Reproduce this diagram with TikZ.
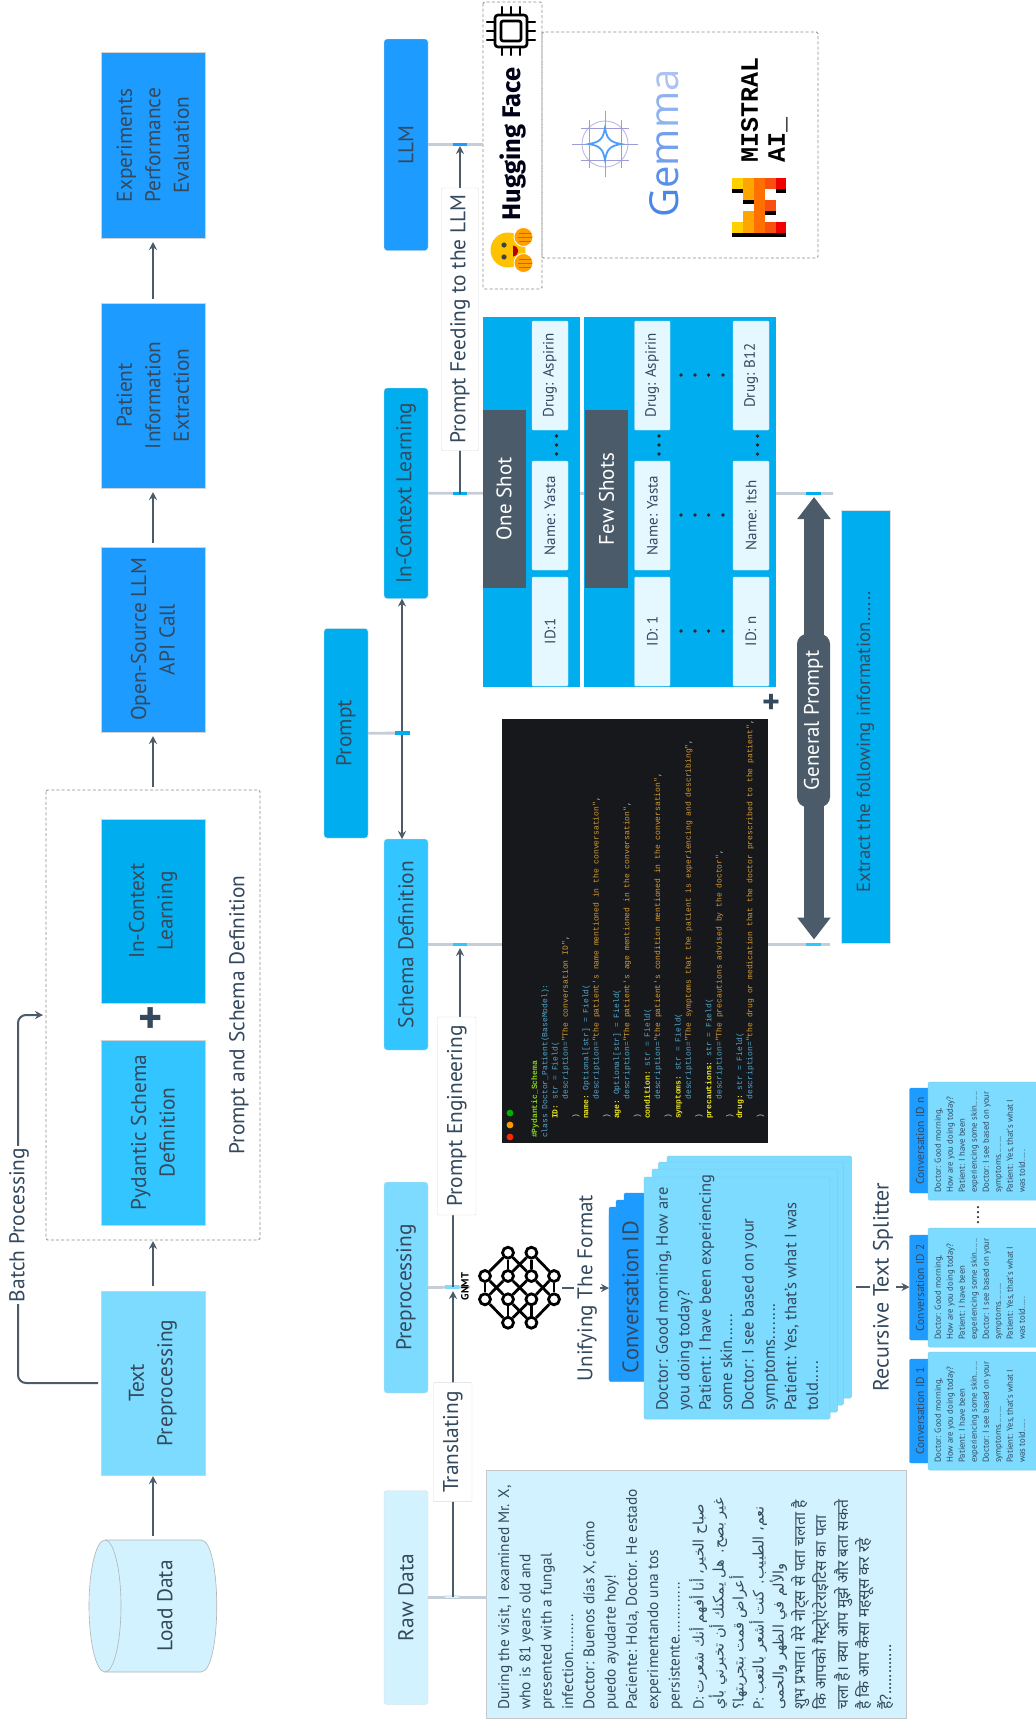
\documentclass[tikz,border=0pt]{standalone}
\usepackage{fontspec}
\usetikzlibrary{arrows.meta}
\setmainfont{PT Sans}
\setmonofont{Liberation Mono}
\newfontfamily\arabicfont[Script=Arabic]{DejaVu Sans}
\newfontfamily\hindifont[Script=Devanagari]{Noto Sans}
\newfontfamily\hffont{Fira Sans}
\newfontfamily\gemfont{Open Sans}
\TeXXeTstate=1
\definecolor{ink}{HTML}{34495E}
\definecolor{slate}{HTML}{4B5B69}
\definecolor{bDark}{HTML}{1E9BFF}
\definecolor{bCyan}{HTML}{00AEEF}
\definecolor{bSky}{HTML}{33C5FF}
\definecolor{bLight}{HTML}{7CDBFF}
\definecolor{bPale}{HTML}{D3F2FF}
\definecolor{cellc}{HTML}{E5F7FF}
\definecolor{rule}{HTML}{C5CED6}
\definecolor{codebg}{HTML}{16181C}
\definecolor{ckey}{HTML}{EDE61E}
\definecolor{ctype}{HTML}{55A8CC}
\definecolor{cstr}{HTML}{D69A30}
\definecolor{cpun}{HTML}{C8CCC0}
\definecolor{cgrn}{HTML}{86D60E}
\newcommand{\fs}[2]{\fontsize{#1}{#2}\selectfont}
\newcommand{\ck}[1]{\textcolor{ckey}{\textbf{#1}}}
\newcommand{\ct}[1]{\textcolor{ctype}{#1}}
\newcommand{\cstrg}[1]{\textcolor{cstr}{#1}}
\newcommand{\cpu}[1]{\textcolor{cpun}{#1}}
\newcommand{\ia}{\hspace*{19pt}}
\newcommand{\ib}{\hspace*{38.4pt}}
\newcommand{\Bx}[7][]{\node[rotate=90,inner sep=0pt,outer sep=0pt,align=center,
  text=ink,minimum width=#6pt-#4pt,minimum height=#5pt-#3pt,#1] (#2)
  at ({(#3+#5)/2},{(#4+#6)/2}) {#7};}
\newcommand{\SmallCard}[5]{%
  \Bx[hd]{#1h}{909.5}{#2}{935}{#3}{\hspace*{0pt}}
  \node[rotate=90,text=ink,font=\fs{11.5}{12}] (#1l) at (920,{#3-52}) {#1};
  \Bx[crd]{#1c}{928}{#4}{1040}{#5}{}
  \node[rotate=90,anchor=north west,inner sep=0pt,align=left,text=ink,font=\fs{8.7}{12}] (#1t) at (934.5,{#5-7})
  {Doctor: Good morning,\\How are you doing today?\\Patient: I have been\\experiencing some skin......\\Doctor: I see based on your\\symptoms........\\Patient: Yes, that's what I\\was told.....};}
\tikzset{
  hd/.style={fill=bDark,draw=bDark,rounded corners=1.5pt},
  crd/.style={fill=bLight,draw=bLight!85!gray,line width=.5pt,rounded corners=1.5pt},
  flatbox/.style={draw=gray!35,line width=.4pt,font=\fs{21.4}{28.5}},
  nodebox/.style={draw=gray!25,line width=.4pt,rounded corners=3pt,font=\fs{21.4}{28.5}},
  lab/.style={fill=white,draw=gray!30,line width=.4pt,rounded corners=1pt,font=\fs{21.4}{24}},
  cell/.style={fill=cellc,draw=gray!20,line width=.3pt,rounded corners=1pt,font=\fs{15}{16}},
  dashbox/.style={draw=gray!90,dashed,line width=.9pt,dash pattern=on 3pt off 2.2pt,rounded corners=1.5pt},
  flow/.style={draw=slate,line width=2pt,-{Stealth[length=8pt,width=8pt]}},
  plain/.style={draw=slate,line width=1.8pt},
  conn/.style={draw=rule,line width=2.8pt},
  seg/.style={line width=3.6pt},
  fat/.style={draw=slate,line width=20pt,{Triangle[length=22pt,width=32pt]}-{Triangle[length=22pt,width=32pt]}},
  freetext/.style={rotate=90,text=ink,inner sep=0pt},
  nn/.style={circle,draw=black,fill=white,line width=2.8pt,minimum size=11pt,inner sep=0pt},
  nnedge/.style={draw=black,line width=2.8pt},
  tabledot/.style={circle,fill=black!85,inner sep=0pt,minimum size=3.8pt},
}
\begin{document}
\begin{tikzpicture}[x=1pt,y=-1pt]
\useasboundingbox (0,0) rectangle (1036,1719);
\fill[white] (0,0) rectangle (1036,1719);

% ---- left column ----
\fill[bPale] (105,1540) -- (201,1540) .. controls (222,1540) and (222,1672) .. (201,1672) -- (105,1672) .. controls (84,1672) and (84,1540) .. (105,1540) -- cycle;
\draw[gray!60,line width=.6pt] (105,1540) -- (201,1540) .. controls (222,1540) and (222,1672) .. (201,1672) -- (105,1672);
\draw[gray!60,line width=.6pt] (105,1606) ellipse[x radius=16,y radius=66];
\Bx[font=\fs{21.4}{28}]{load}{125}{1540}{205}{1672}{Load Data}
\Bx[flatbox,fill=bLight]{tp}{101}{1291}{205}{1475}{Text\\Preprocessing}
\Bx[flatbox,fill=bSky]{pyd}{101}{1040}{205}{1225}{Pydantic Schema\\Definition}
\Bx[flatbox,fill=bCyan]{icl}{101}{819}{205}{1003}{In-Context\\Learning}
\Bx[flatbox,fill=bDark]{api}{101}{547}{205}{732}{Open-Source LLM\\API Call}
\Bx[flatbox,fill=bDark]{pie}{101}{303}{205}{488}{Patient\\Information\\Extraction}
\Bx[flatbox,fill=bDark]{exp}{101}{52.5}{205}{238}{Experiments\\Performance\\Evaluation}
\Bx[dashbox]{ps}{46}{790}{260}{1240}{}
\node[freetext,font=\fs{21.4}{24}] (pslabel) at (239,1015) {Prompt and Schema Definition};
\node[font=\bfseries\fs{46}{46},text=ink] (plusa) at (151,1021) {+};
\draw[flow,shorten <=4pt,shorten >=1pt] (tp.west |- load.east) -- (tp.west);
\draw[flow,shorten <=5pt,shorten >=1pt] (tp.east) -- (ps.west);
\draw[flow,shorten <=3pt,shorten >=4pt] (ps.east) -- (api.west);
\draw[flow,shorten <=4pt,shorten >=4pt] (api.east) -- (pie.west);
\draw[flow,shorten <=4pt,shorten >=4pt] (pie.east) -- (exp.west);
\coordinate (bA) at (18,1383);
\coordinate (bB) at (18,1015);
\draw[flow,rounded corners=8pt,shorten <=3pt,shorten >=3pt] (tp.north) -- (bA) -- (bB) -- (ps.north);
\node[freetext,fill=white,inner ysep=3pt,inner xsep=2pt,font=\fs{21.4}{24}] (batch) at (19,1225) {Batch Processing};

% ---- second column ----
\Bx[nodebox,fill=bCyan]{prompt}{324}{628.5}{368}{838}{Prompt}
\Bx[nodebox,fill=bDark]{llm}{384}{39}{428}{250.5}{LLM}
\Bx[nodebox,fill=bCyan]{ic}{384}{388}{428}{598.5}{In-Context Learning}
\Bx[nodebox,fill=bSky]{sd}{384}{839}{428}{1050}{Schema Definition}
\Bx[nodebox,fill=bLight]{pre}{384}{1182}{428}{1393}{Preprocessing}
\Bx[nodebox,fill=bPale]{raw}{384}{1490.5}{428}{1704.5}{Raw Data}

% dashed panels placed first for names
\Bx[dashbox]{hf}{483}{2}{542}{289}{}
\Bx[dashbox]{gem}{542}{32}{818}{258}{}

% grey connection rules
\draw[conn] (llm.south) -- (llm.south -| hf.north);
\coordinate (icEnd) at (833,493.5);
\draw[conn] (ic.south) -- (icEnd);
\coordinate (sdEnd) at (830,944.5);
\Bx[fill=codebg]{code}{502}{719}{768}{1143}{}
\draw[conn] (sd.south) -- (sd.south -| code.north);
\draw[conn] (sd.south -| code.south) -- (sdEnd);
\coordinate (preEnd) at (470,1287);
\draw[conn] (pre.south) -- (preEnd);
\Bx[fill=bPale,draw=gray!45,line width=.5pt]{rawcard}{486.7}{1470}{906.7}{1718}{}
\draw[conn] (raw.south) -- (rawcard.north |- raw.south);
\coordinate (pj) at (402,733);
\coordinate (pjEnd) at (410,733);
\draw[conn] (prompt.south) -- (pjEnd);
\draw[plain,-{Stealth[length=8pt,width=8pt]}] (pj) -- (pj |- ic.west);
\draw[plain,-{Stealth[length=8pt,width=8pt]}] (pj) -- (pj |- sd.east);
% coloured segments
\draw[seg,bDark] (453,144.5) -- (467,144.5);
\draw[seg,bCyan] (453,493.5) -- (467,493.5);
\draw[seg,bCyan] (806,493.5) -- (821,493.5);
\draw[seg,bSky] (453,944.5) -- (467,944.5);
\draw[seg,bSky] (806,944.5) -- (821,944.5);
\draw[seg,bLight] (445,1287) -- (459,1287);
\draw[seg,bPale] (445,1596.5) -- (459,1596.5);
\draw[seg,bCyan] (395,733) -- (410,733);

% prompt feeding
\coordinate (pfA) at (460,493.5);
\coordinate (pfB) at (460,146);
\draw[flow] (pfA) -- (pfB);
\Bx[lab]{pflab}{441.5}{188}{478.5}{450.5}{Prompt Feeding to the LLM}
% prompt engineering
\coordinate (peA) at (453,1287);
\coordinate (peM) at (453,1116);
\coordinate (peN) at (460,1116);
\coordinate (peB) at (460,948);
\draw[flow] (peA) -- (peM) -- (peN) -- (peB);
\Bx[lab]{pelab}{437.5}{1017}{476}{1215}{Prompt Engineering}
% translating
\coordinate (trA) at (453,1596.5);
\coordinate (trB) at (453,1291);
\draw[flow] (trA) -- (trB);
\Bx[lab]{trlab}{433.5}{1382.6}{472}{1501.6}{Translating}
\node[rotate=90,font=\bfseries\fs{10.5}{12},text=black] (gnmt) at (465,1286.5) {GNMT};

% ---- Hugging Face panel ----
\node[rotate=90,font=\hffont\bfseries\fs{25.5}{30},text=black!90!blue] (hflabel) at (512.5,144) {Hugging Face};
\draw[line width=2.6pt,rounded corners=3pt] (495,15) rectangle (527,47);
\draw[line width=2.6pt,rounded corners=2pt] (501,21) rectangle (521,41);
\foreach \p in {22,31,40}{
  \draw[line width=2.4pt,line cap=round] (487,\p) -- (495,\p);
  \draw[line width=2.4pt,line cap=round] (527,\p) -- (535,\p);
  \draw[line width=2.4pt,line cap=round] ({\p+480},7) -- ({\p+480},15);
  \draw[line width=2.4pt,line cap=round] ({\p+480},47) -- ({\p+480},55);
}
% hugging emoji
\fill[orange!40!yellow!95!red] (508,250) circle[radius=17.5];
\fill[black!75] (504,245) circle[radius=2.6];
\fill[black!75] (504,257) circle[radius=2.6];
\fill[red!70!black] (513,245.5) .. controls (520,247) and (520,255) .. (513,256.5) -- cycle;
\foreach \yc in {237,263}{
  \fill[orange!75!yellow,draw=white,line width=.8pt] (523.5,\yc) ellipse[x radius=9.5,y radius=9.5];
  \draw[orange!60!red,line width=.6pt] (518,\yc) -- (532,\yc) (519,{\yc-4}) -- (531,{\yc-4}) (519,{\yc+4}) -- (531,{\yc+4});
}

% ---- Gemma ----
\begin{scope}[shift={(605,144)}]
  \draw[gray!45!blue!35,line width=.9pt] (0,0) circle[radius=23];
  \draw[blue!40!gray!55,line width=1pt] (-33,0) -- (33,0) (0,-33) -- (0,33)
     (-24,-16) -- (24,-16) (-24,16) -- (24,16) (-16,-24) -- (-16,24) (16,-24) -- (16,24);
  \draw[blue!55!cyan!70,line width=1.8pt,fill=white] (0,-16) .. controls (2,-5) and (5,-2) .. (16,0)
     .. controls (5,2) and (2,5) .. (0,16) .. controls (-2,5) and (-5,2) .. (-16,0)
     .. controls (-5,-2) and (-2,-5) .. (0,-16) -- cycle;
\end{scope}
\definecolor{ga}{HTML}{4A86E8}\definecolor{gb}{HTML}{5A90EA}\definecolor{gc}{HTML}{739FEF}\definecolor{gd}{HTML}{8FB2F0}\definecolor{ge}{HTML}{ABC3F2}
\node[rotate=90,font=\gemfont\fs{40}{44}] (gemma) at (664,143.5) {\textcolor{ga}{G}\textcolor{gb}{e}\textcolor{gc}{m}\textcolor{gd}{m}\textcolor{ge}{a}};
% ---- Mistral ----
\node[rotate=90,anchor=north west,inner sep=0pt,align=left,font=\ttfamily\bfseries\fs{25}{27},text=black] (mistral) at (741,163) {MISTRAL\\AI\_};
\definecolor{ma}{HTML}{FFD000}\definecolor{mb}{HTML}{FFA500}\definecolor{mc}{HTML}{FF7000}\definecolor{md}{HTML}{FA500F}\definecolor{me}{HTML}{F00000}
\foreach \xa/\xb/\col in {731.7/742.7/ma,742.7/753.7/mb,753.7/764.7/mc,764.7/775.7/md,775.7/786/me}{
  \fill[\col] (\xa,178.3) rectangle (\xb,189.3);
  \fill[\col] (\xa,221.7) rectangle (\xb,233.3);
  \fill[black] (\xa,233.3) rectangle (\xb,236.7);
}
\foreach \xa/\xb/\col in {742.7/753.7/mb,753.7/764.7/mc}{
  \fill[\col] (\xa,189.3) rectangle (\xb,200);
  \fill[\col] (\xa,210.7) rectangle (\xb,221.7);
}
\fill[mc] (753.7,200) rectangle (764.7,210.7);
\fill[md] (764.7,200) rectangle (775.7,210.7);
\fill[black] (731.7,189.3) rectangle (742.7,193);
\fill[black] (775.7,189.3) rectangle (786,193);
\fill[black] (742.7,200) rectangle (753.7,204);
\fill[black] (764.7,210.7) rectangle (775.7,214.5);

% ---- tables ----
\Bx[fill=bCyan]{oneshot}{482.5}{317}{580}{687}{}
\Bx[fill=bCyan]{fewshot}{584}{317}{776}{687}{}
\Bx[fill=slate,text=white,font=\fs{21}{24}]{onel}{482.5}{410}{525.5}{588}{One Shot}
\Bx[fill=slate,text=white,font=\fs{21}{24}]{fewl}{585}{410}{628}{588}{Few Shots}
\Bx[cell]{c1a}{532}{321}{568}{430}{Drug: Aspirin}
\Bx[cell]{c1b}{532}{461}{568}{570}{Name: Yasta}
\Bx[cell]{c1c}{532}{577}{568}{686}{ID:1}
\Bx[cell]{c2a}{634.5}{321}{670}{430}{Drug: Aspirin}
\Bx[cell]{c2b}{634.5}{461}{670}{570}{Name: Yasta}
\Bx[cell]{c2c}{634.5}{577}{670}{686}{ID: 1}
\Bx[cell]{c3a}{733}{321}{769}{430}{Drug: B12}
\Bx[cell]{c3b}{733}{461}{769}{570}{Name: Itsh}
\Bx[cell]{c3c}{733}{577}{769}{686}{ID: n}
\foreach \xx in {556.5,659,757.5}\foreach \yy in {436,445,454} \node[tabledot] at (\xx,\yy) {};
\foreach \yy in {375,515,631}\foreach \xx in {681,695,708.5,723} \node[tabledot] at (\xx,\yy) {};
\node[font=\bfseries\fs{34}{34},text=ink] (plusb) at (771,704) {+};

% ---- code ----
\node[rotate=90,anchor=north west,inner sep=0pt,align=left,font=\ttfamily\fs{8}{10.25}] (codetxt) at (531,1138) {%
\textcolor{cgrn}{\textbf{\#Pydantic\_Schema}}\\
\ct{class Doctor\_Patient(BaseModel):}\\
\ia\ck{ID:} \ct{str = Field(}\\
\ib\ct{description=}\cstrg{"The conversation ID"}\cpu{,}\\
\ia\cpu{)}\\
\ia\ck{name:} \ct{Optional[str] = Field(}\\
\ib\ct{description=}\cstrg{"the patient's name mentioned in the conversation"}\cpu{,}\\
\ia\cpu{)}\\
\ia\ck{age:} \ct{Optional[str] = Field(}\\
\ib\ct{description=}\cstrg{"The patient's age mentioned in the conversation"}\cpu{,}\\
\ia\cpu{)}\\
\ia\ck{condition:} \ct{str = Field(}\\
\ib\ct{description=}\cstrg{"the patient's condition mentioned in the conversation"}\cpu{,}\\
\ia\cpu{)}\\
\ia\ck{symptoms:} \ct{str = Field(}\\
\ib\ct{description=}\cstrg{"The symptoms that the patient is experiencing and describing"}\cpu{,}\\
\ia\cpu{)}\\
\ia\ck{precautions:} \ct{str = Field(}\\
\ib\ct{description=}\cstrg{"The precautions advised by the doctor"}\cpu{,}\\
\ia\cpu{)}\\
\ia\ck{drug:} \ct{str = Field(}\\
\ib\ct{description=}\cstrg{"the drug or medication that the doctor prescribed to the patient"}\cpu{,}\\
\ia\cpu{)}};
\fill[green!70!black] (510,1113) circle[radius=3.4];
\fill[orange!80!yellow] (510,1125) circle[radius=3.4];
\fill[red!70!orange] (510,1137) circle[radius=3.4];

% ---- general prompt ----
\coordinate (gpA) at (814,497);
\coordinate (gpB) at (814,939.5);
\draw[fat] (gpA) -- (gpB);
\Bx[fill=slate,text=white,rounded corners=10pt,font=\fs{21}{24}]{gp}{797}{634}{830}{807}{General Prompt}
\Bx[fill=bCyan,draw=gray!25,line width=.4pt]{extract}{841}{510}{890}{943}{}
\node[freetext,font=\fs{19}{24}] (extext) at (865.5,742) {Extract the following information......};

% ---- network ----
\foreach \nm/\xx/\yy in {n1/508/1252.7,n2/531.4/1252.7,n3/485/1276,n4/508/1276,n5/531.4/1276,n6/554/1276,n7/485/1299.3,n8/508/1299.3,n9/531.4/1299.3,n10/554/1299.3,n11/508/1322.7,n12/531.4/1322.7}
  \node[nn] (\nm) at (\xx,\yy) {};
\foreach \a/\b in {n1/n3,n2/n6,n7/n11,n10/n12,n3/n7,n6/n10,n1/n4,n2/n5,n8/n11,n9/n12,n1/n5,n2/n4,n3/n8,n4/n7,n4/n9,n5/n8,n5/n10,n6/n9,n8/n12,n9/n11}
  \draw[nnedge] (\a) -- (\b);

% ---- stacks ----
\coordinate (uS) at (562,1288);
\Bx[hd]{h3}{624}{1193}{680}{1370}{}
\Bx[hd]{h2}{616}{1200}{680}{1375}{}
\Bx[hd]{h1}{609}{1207}{680}{1380}{}
\Bx[hd]{h0}{609}{1214}{680}{1381.7}{}
\draw[flow] (uS) -- (uS -| h0.north);
\node[freetext,fill=white,inner xsep=1pt,inner ysep=3pt,font=\fs{21.2}{24}] (unify) at (587,1288) {Unifying The Format};
\node[freetext,font=\fs{22.5}{26}] (cid) at (630.6,1297) {Conversation ID};
\Bx[crd]{k3}{667}{1156}{851.6}{1398}{}
\Bx[crd]{k2}{658.5}{1162}{843.6}{1405}{}
\Bx[crd]{k1}{652}{1169}{837.5}{1412}{}
\Bx[crd]{k0}{644}{1177}{830}{1419}{}
\node[rotate=90,anchor=north west,inner sep=0pt,align=left,text=ink,font=\fs{16.5}{21.4}] (ktxt) at (656,1411) {Doctor: Good morning, How are\\you doing today?\\Patient: I have been experiencing\\some skin......\\Doctor: I see based on your\\symptoms........\\Patient: Yes, that's what I was\\told.....};

\coordinate (rS) at (855.5,1287);
\SmallCard{Conversation ID 1}{1359}{1463}{1352}{1470}
\SmallCard{Conversation ID 2}{1235}{1340}{1228}{1347}
\SmallCard{Conversation ID n}{1088}{1193}{1082}{1200}
\draw[flow] (rS) -- (rS -| Conversation ID 2h.north);
\node[freetext,fill=white,inner xsep=1pt,inner ysep=3pt,font=\fs{22}{24}] (rts) at (883,1287) {Recursive Text Splitter};
\foreach \yy in {1207,1212,1217,1222} \node[circle,fill=black!80,inner sep=0pt,minimum size=2.5pt] at (978,\yy) {};

% ---- raw data text ----
\node[rotate=90,anchor=north west,inner sep=0pt,align=left,text=ink,font=\fs{15.4}{21.3}] (rawa) at (498,1710) {During the visit, I examined Mr. X,\\who is 81 years old and\\presented with a fungal\\infection.........\\Doctor: Buenos días X, cómo\\puedo ayudarte hoy!\\Paciente: Hola, Doctor. He estado\\experimentando una tos\\persistente.............};
\node[rotate=90,anchor=north west,inner sep=0pt,align=left,text=ink,font=\fs{14.5}{20}] (rawb) at (689,1710) {D: {\arabicfont\beginR صباح الخير، أنا أفهم أنك شعرت\endR}\\{\arabicfont\beginR غير بصح. هل يمكنك أن تخبرني بأي\endR}\\{\arabicfont\beginR أعراض قمت بتجربتها؟\endR}\\P: {\arabicfont\beginR نعم، الطبيب. كنت أشعر بالتعب\endR}\\{\arabicfont\beginR والألم في الظهر والحمى\endR}};
\node[rotate=90,anchor=north west,inner sep=0pt,align=left,text=ink,font=\hindifont\fs{15.6}{21.5}] (rawc) at (791,1710) {शुभ प्रभात। मेरे नोट्स से पता चलता है\\कि आपको गैस्ट्रोएंटेराइटिस का पता\\चला है। क्या आप मुझे और बता सकते\\है कि आप कैसा महसूस कर रहे\\हैं?............};
\end{tikzpicture}
\end{document}
